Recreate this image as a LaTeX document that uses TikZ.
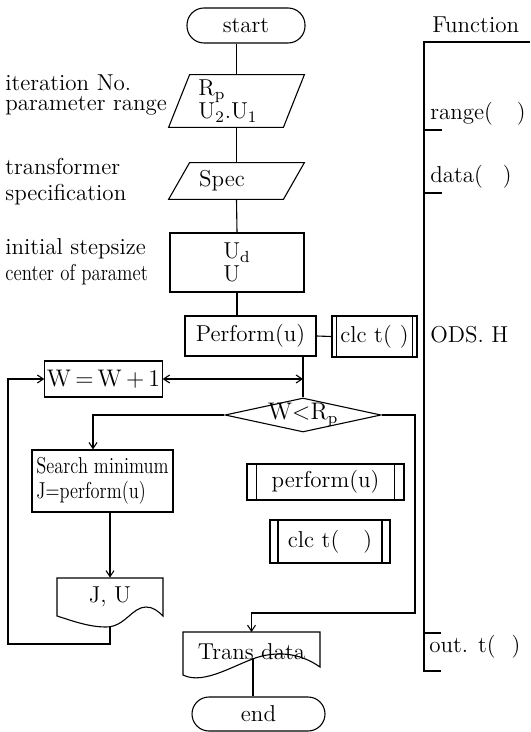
\documentclass[tikz,border=0pt]{standalone}
\usepackage{graphicx}
\usetikzlibrary{arrows.meta,shapes.geometric,calc}
\tikzset{
  lw/.style={line width=0.55pt},
  box/.style={draw, lw, rectangle, inner sep=1pt},
  term/.style={draw, lw, rectangle, rounded corners=8.5pt, inner sep=0pt},
  subr/.style={draw, lw, rectangle, inner sep=0pt,
    path picture={\draw[lw]
      ([xshift=#1]path picture bounding box.north west) -- ([xshift=#1]path picture bounding box.south west)
      ([xshift=-#1]path picture bounding box.north east) -- ([xshift=-#1]path picture bounding box.south east);}},
  flow/.style={lw, -{Straight Barb[length=3pt,width=4pt]}},
  both/.style={lw, {Straight Barb[length=3pt,width=4pt]}-{Straight Barb[length=3pt,width=4pt]}},
  conn/.style={lw},
  lbl/.style={anchor=base west, inner sep=0pt},
  ghost/.style={inner sep=0pt, rectangle},
}
\begin{document}
\begin{tikzpicture}[x=0.5pt, y=-0.5pt, font=\fontsize{11.5}{13}\selectfont]
\useasboundingbox (0,0) rectangle (530,732);

% ---- main flow shapes ----
\node[term, minimum width=59pt, minimum height=17.5pt] (start) at (246,25.5) {start};

\node[ghost, minimum width=67.5pt, minimum height=26pt] (p1) at (236.5,101) {};
\draw[lw] (p1.south west) -- ([xshift=10.5pt]p1.north west) -- (p1.north east) -- ([xshift=-10.5pt]p1.south east) -- cycle;
\node[anchor=west, inner sep=0pt, align=left] (p1t) at (198,101) {R\textsubscript{p}\\[-1.5pt]U\textsubscript{2}.U\textsubscript{1}};

\node[ghost, minimum width=67.5pt, minimum height=18pt] (p2) at (236.5,181) {};
\draw[lw] (p2.south west) -- ([xshift=10.5pt]p2.north west) -- (p2.north east) -- ([xshift=-10.5pt]p2.south east) -- cycle;
\node[inner sep=0pt] (p2t) at (222,181) {Spec};

\node[box, minimum width=67pt, minimum height=29.5pt, align=left] (ud) at (237,262.5) {U\textsubscript{d}\\[-1.5pt]U};

\node[box, minimum width=65.5pt, minimum height=20pt] (perf) at (250.5,336) {Perform(u)};
\node[subr=2.2pt, minimum width=42.5pt, minimum height=20.5pt] (clc1) at (374.5,336.5) {clc t(\hspace{4pt})};

\node[box, minimum width=58.5pt, minimum height=18pt] (w) at (103.5,379) {$\mathrm{W}\,{=}\,\mathrm{W}\,{+}\,1$};

\node[diamond, draw, lw, minimum width=78pt, minimum height=17pt, inner sep=0pt,
      label={center:$\mathrm{W}{<}\mathrm{R}_{\mathrm{p}}$}] (dia) at (303,415) {};

\node[box, minimum width=70.5pt, minimum height=31pt, align=left] (search) at (102.5,481)
  {\scalebox{0.8}[1]{Search minimum}\\[-0.5pt]\scalebox{0.8}[1]{J=perform(u)}};

\node[subr=4.8pt, minimum width=78.5pt, minimum height=18pt] (pf2) at (325.5,482) {perform(u)};
\node[subr=4pt, minimum width=60pt, minimum height=21.5pt] (clc2) at (330,541.5) {clc t(\hspace{12pt})};

% J, U document
\node[ghost, minimum width=53pt, minimum height=19pt] (ju) at (110,597) {J, U};
\draw[lw] (57,616) -- (57,578) -- (163,578) -- (163,616)
  .. controls (158,611) and (153,607) .. (146,607)
  .. controls (132,607) and (125,627) .. (106,627)
  .. controls (88,627) and (70,620) .. (57,616) -- cycle;

% Trans data document
\node[ghost, minimum width=68.5pt, minimum height=19pt] (td) at (251.5,651.5) {Trans data};
\draw[lw] (183,675) -- (183,632) -- (320,632) -- (320,667)
  .. controls (300,653) and (280,652) .. (262,656)
  .. controls (238,662) and (205,686) .. (183,675) -- cycle;

\node[term, minimum width=66.5pt, minimum height=17pt] (stop) at (258.5,714) {end};

% ---- connectors ----
\coordinate (jub) at (110,627);
\coordinate (lp) at (8,644);
\coordinate (rc) at (415,613);
\coordinate (tdb) at (253,658);

\draw[conn] (start.south -| p1.north) -- (p1.north);
\draw[conn] (p1.south) -- (p2.north);
\draw[conn] (p2.south) -- (ud.north);
\draw[conn] (ud.south) -- (ud.south |- perf.north);
\draw[conn] (perf.east) -- (clc1.west);
\draw[conn] (perf.south -| dia.north) -- (dia.north);
\draw[both] (w.east) -- (w.east -| dia.north);
\draw[flow] (dia.west) -| ([xshift=-4.75pt]search.north);
\draw[flow] (search.south -| ju.north) -- (ju.north);
\draw[flow] (jub) |- (lp) |- (w.west);
\draw[flow] (dia.east) -| (rc) -| (td.north);
\draw[conn] (tdb) -- (tdb |- stop.north);

% ---- left annotations ----
\node[lbl] (a1) at (5,91) {iteration No.};
\node[lbl] (a2) at (5,111) {parameter range};
\node[lbl] (a3) at (5,175) {transformer};
\node[lbl] (a4) at (5,201) {specification};
\node[lbl] (a5) at (5,255) {initial stepsize};
\node[lbl] (a6) at (5,281) {\scalebox{0.82}[1]{center of paramet}};

% ---- Function column ----
\node[lbl] (f0) at (432,33) {Function};
\draw[lw] (530,42) -- (424,42) -- (424,671) -- (441,671);
\draw[lw] (424,130) -- (442,130);
\draw[lw] (424,193) -- (442,193);
\draw[lw] (423,633) -- (441,633);
\node[lbl] (f1) at (430,120) {range(\hspace{12pt})};
\node[lbl] (f2) at (430,183) {data(\hspace{10pt})};
\node[lbl] (f3) at (430,342) {ODS. H};
\node[lbl] (f4) at (429,652) {out. t(\hspace{8pt})};
\end{tikzpicture}
\end{document}
